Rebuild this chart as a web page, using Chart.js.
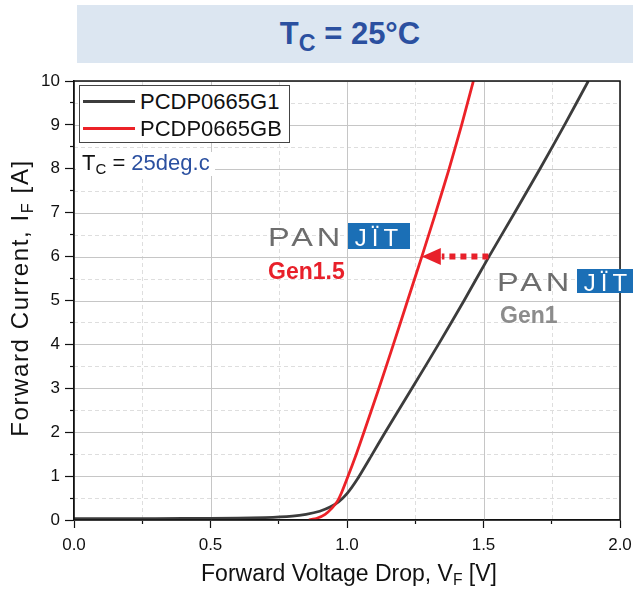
<!DOCTYPE html>
<html>
<head>
<meta charset="utf-8">
<script src="https://cdn.jsdelivr.net/npm/chart.js@4.4.1/dist/chart.umd.min.js"></script>
<style>
body{margin:0;width:633px;height:594px;overflow:hidden;position:relative;background:#fff;font-family:"Liberation Sans",Arial,sans-serif;color:#111}
canvas{position:absolute;left:0;top:0}
.abs{position:absolute;white-space:nowrap;line-height:1}
sub{font-size:0.68em;vertical-align:-0.28em;line-height:0}
#title{left:77px;top:5px;width:546px;padding-right:10px;height:58px;background:#dce6f1;color:#2b50a0;font-weight:bold;font-size:31px;line-height:58px;text-align:center}
#title sub{font-size:0.75em;vertical-align:-0.3em}
#ytitle{left:-180px;top:286px;width:400px;text-align:center;font-size:24px;letter-spacing:1.6px;transform:rotate(-90deg)}
#xtitle{left:49px;top:562px;width:600px;text-align:center;font-size:23px}
#legend{left:79px;top:85px;width:209px;height:56px;border:1px solid #444;background:#fff}
#legend .row{position:absolute;left:0;width:209px;height:26px}
#legend .swatch{position:absolute;left:3px;width:52px;height:3px}
#legend .name{position:absolute;left:60px;font-size:22px;line-height:1}
#tc{left:76px;top:152px;padding:0 5px 2px 6px;background:#fff;font-size:22px}
#tc span{color:#2b50a0}
.pan{font-size:25px;color:#6d6d6d;letter-spacing:3px;transform:scaleX(1.3);transform-origin:left center}
.jit{background:#1b6fb6;color:#fff;font-size:24px;letter-spacing:5px;text-align:center}
.gen{font-size:23px;font-weight:bold}
</style>
</head>
<body>
<canvas id="ivChart" width="633" height="594"></canvas>
<div id="title" class="abs">T<sub>C</sub> = 25°C</div>
<div id="ytitle" class="abs">Forward Current, I<sub>F</sub> [A]</div>
<div id="xtitle" class="abs">Forward Voltage Drop, V<sub>F</sub> [V]</div>
<div id="legend" class="abs"></div>
<div id="tc" class="abs">T<sub>C</sub> = <span>25deg.c</span></div>

<div class="abs pan" style="left:268px;top:225px">PAN</div>
<div class="abs jit" style="left:348px;top:223px;width:62px;height:26px;line-height:29px">JÏT</div>
<div class="abs gen" style="left:268px;top:260px;color:#e8202a">Gen1.5</div>

<div class="abs pan" style="left:497px;top:270px">PAN</div>
<div class="abs jit" style="left:577px;top:269px;width:62px;height:24px;line-height:27px">JÏT</div>
<div class="abs gen" style="left:500px;top:304px;color:#8c8c8c">Gen1</div>

<script>
// 数据：正向压降 VF (V) 与 正向电流 IF (A)
const seriesNames = ['PCDP0665G1', 'PCDP0665GB'];
const seriesColors = ['#3c3c3c', '#ec2228'];

const vfG1 = [0, 0.2, 0.4, 0.6, 0.7, 0.8, 0.85, 0.9, 0.94, 0.97, 1.0, 1.04, 1.088, 1.14, 1.238, 1.335, 1.429, 1.52, 1.614, 1.707, 1.797, 1.884];
const ifG1 = [0.03, 0.03, 0.035, 0.04, 0.055, 0.09, 0.13, 0.2, 0.3, 0.42, 0.6, 0.95, 1.45, 2, 3, 4, 5, 6, 7, 8, 9, 10];

const vfGB = [0.86, 0.89, 0.92, 0.945, 0.965, 0.98, 1.004, 1.034, 1.062, 1.117, 1.17, 1.222, 1.274, 1.325, 1.374, 1.42, 1.463];
const ifGB = [0, 0.04, 0.13, 0.27, 0.43, 0.62, 1, 1.5, 2, 3, 4, 5, 6, 7, 8, 9, 10];

const xTickValues = [0, 0.5, 1.0, 1.5, 2.0];
const xMinorValues = [0.25, 0.75, 1.25, 1.75];
const yTickValues = [0, 1, 2, 3, 4, 5, 6, 7, 8, 9, 10];
const yMinorValues = [0.5, 1.5, 2.5, 3.5, 4.5, 5.5, 6.5, 7.5, 8.5, 9.5];

// 箭头：Gen1 -> Gen1.5 @ 6A
const arrowCurrent = 6;
const arrowFrom = 1.518;
const arrowTo = 1.274;

// 图例
const legendBox = document.getElementById('legend');
seriesNames.forEach(function(name, i){
    const row = document.createElement('div');
    row.className = 'row';
    row.style.top = (i * 26.6) + 'px';
    row.innerHTML = '<div class="swatch" style="top:14px;background:' + seriesColors[i] + '"></div>' +
                    '<div class="name" style="top:5px">' + name + '</div>';
    legendBox.appendChild(row);
});

// 网格线（主：实线，次：虚线）
const gridPlugin = {
    id: 'gridLines',
    beforeDatasetsDraw(chart){
        const ctx = chart.ctx, a = chart.chartArea;
        const x = chart.scales.x, y = chart.scales.y;
        ctx.save();
        ctx.lineWidth = 1;
        ctx.strokeStyle = '#dedede';
        ctx.setLineDash([4, 3]);
        xMinorValues.forEach(function(v){
            const px = Math.round(x.getPixelForValue(v)) + 0.5;
            ctx.beginPath(); ctx.moveTo(px, a.top); ctx.lineTo(px, a.bottom); ctx.stroke();
        });
        yMinorValues.forEach(function(v){
            const py = Math.round(y.getPixelForValue(v)) + 0.5;
            ctx.beginPath(); ctx.moveTo(a.left, py); ctx.lineTo(a.right, py); ctx.stroke();
        });
        ctx.setLineDash([]);
        ctx.strokeStyle = '#c6c6c6';
        xTickValues.forEach(function(v){
            const px = Math.round(x.getPixelForValue(v)) + 0.5;
            ctx.beginPath(); ctx.moveTo(px, a.top); ctx.lineTo(px, a.bottom); ctx.stroke();
        });
        yTickValues.forEach(function(v){
            const py = Math.round(y.getPixelForValue(v)) + 0.5;
            ctx.beginPath(); ctx.moveTo(a.left, py); ctx.lineTo(a.right, py); ctx.stroke();
        });
        ctx.restore();
    }
};

const framePlugin = {
    id: 'frameAndArrow',
    afterDraw(chart){
        const ctx = chart.ctx, a = chart.chartArea;
        const x = chart.scales.x, y = chart.scales.y;
        ctx.save();
        ctx.strokeStyle = '#111';
        ctx.lineWidth = 1.5;
        ctx.strokeRect(a.left, a.top, a.right - a.left, a.bottom - a.top);

        const yy = y.getPixelForValue(arrowCurrent);
        const x0 = x.getPixelForValue(arrowFrom);
        const x1 = x.getPixelForValue(arrowTo);
        ctx.strokeStyle = '#e8202a';
        ctx.lineWidth = 6;
        ctx.setLineDash([6, 5]);
        ctx.beginPath();
        ctx.moveTo(x0, yy);
        ctx.lineTo(x1 + 20, yy);
        ctx.stroke();
        ctx.setLineDash([]);
        ctx.fillStyle = '#e8202a';
        ctx.beginPath();
        ctx.moveTo(x1, yy);
        ctx.lineTo(x1 + 19, yy - 8.5);
        ctx.lineTo(x1 + 19, yy + 8.5);
        ctx.closePath();
        ctx.fill();
        ctx.restore();
    }
};

Chart.defaults.font.family = '"Liberation Sans", Arial, sans-serif';

function toPoints(xs, ys){
    return xs.map(function(v, i){ return {x: v, y: ys[i]}; });
}

const minorGrid = {drawOnChartArea: false, tickLength: 4, tickColor: '#111', tickWidth: 1.2};

new Chart(document.getElementById('ivChart'), {
    type: 'scatter',
    data: {
        datasets: [{
            label: seriesNames[0],
            data: toPoints(vfG1, ifG1),
            borderColor: seriesColors[0],
            order: 1
        }, {
            label: seriesNames[1],
            data: toPoints(vfGB, ifGB),
            borderColor: seriesColors[1],
            order: 0
        }]
    },
    options: {
        responsive: false,
        animation: false,
        showLine: true,
        layout: {padding: {top: 81, right: 13, bottom: 0, left: 0}},
        elements: {
            point: {radius: 0},
            line: {borderWidth: 2.8, tension: 0.15, fill: false}
        },
        plugins: {legend: {display: false}, tooltip: {enabled: false}},
        scales: {
            x: {
                type: 'linear', position: 'bottom', min: 0, max: 2, weight: 1,
                afterFit: function(s){ s.height = 74; s.paddingLeft = 0; s.paddingRight = 0; },
                afterBuildTicks: function(s){ s.ticks = xTickValues.map(function(v){ return {value: v}; }); },
                ticks: {autoSkip: false, maxRotation: 0, padding: 7, color: '#111', font: {size: 17},
                        callback: function(v){ return Number(v).toFixed(1); }},
                grid: {drawOnChartArea: false, tickLength: 8, tickColor: '#111', tickWidth: 1.2},
                border: {color: '#111', width: 1.5}
            },
            xMinor: {
                type: 'linear', axis: 'x', position: 'bottom', min: 0, max: 2, weight: 0,
                afterFit: function(s){ s.height = 0; s.paddingLeft = 0; s.paddingRight = 0; },
                afterBuildTicks: function(s){ s.ticks = xMinorValues.map(function(v){ return {value: v}; }); },
                ticks: {display: false},
                grid: minorGrid,
                border: {display: false}
            },
            y: {
                type: 'linear', position: 'left', min: 0, max: 10, weight: 1,
                afterFit: function(s){ s.width = 74; s.paddingTop = 0; s.paddingBottom = 0; },
                afterBuildTicks: function(s){ s.ticks = yTickValues.map(function(v){ return {value: v}; }); },
                ticks: {autoSkip: false, padding: 5, color: '#111', font: {size: 17}},
                grid: {drawOnChartArea: false, tickLength: 9, tickColor: '#111', tickWidth: 1.2},
                border: {color: '#111', width: 1.5}
            },
            yMinor: {
                type: 'linear', axis: 'y', position: 'left', min: 0, max: 10, weight: 0,
                afterFit: function(s){ s.width = 0; s.paddingTop = 0; s.paddingBottom = 0; },
                afterBuildTicks: function(s){ s.ticks = yMinorValues.map(function(v){ return {value: v}; }); },
                ticks: {display: false},
                grid: minorGrid,
                border: {display: false}
            }
        }
    },
    plugins: [gridPlugin, framePlugin]
});
</script>
</body>
</html>
